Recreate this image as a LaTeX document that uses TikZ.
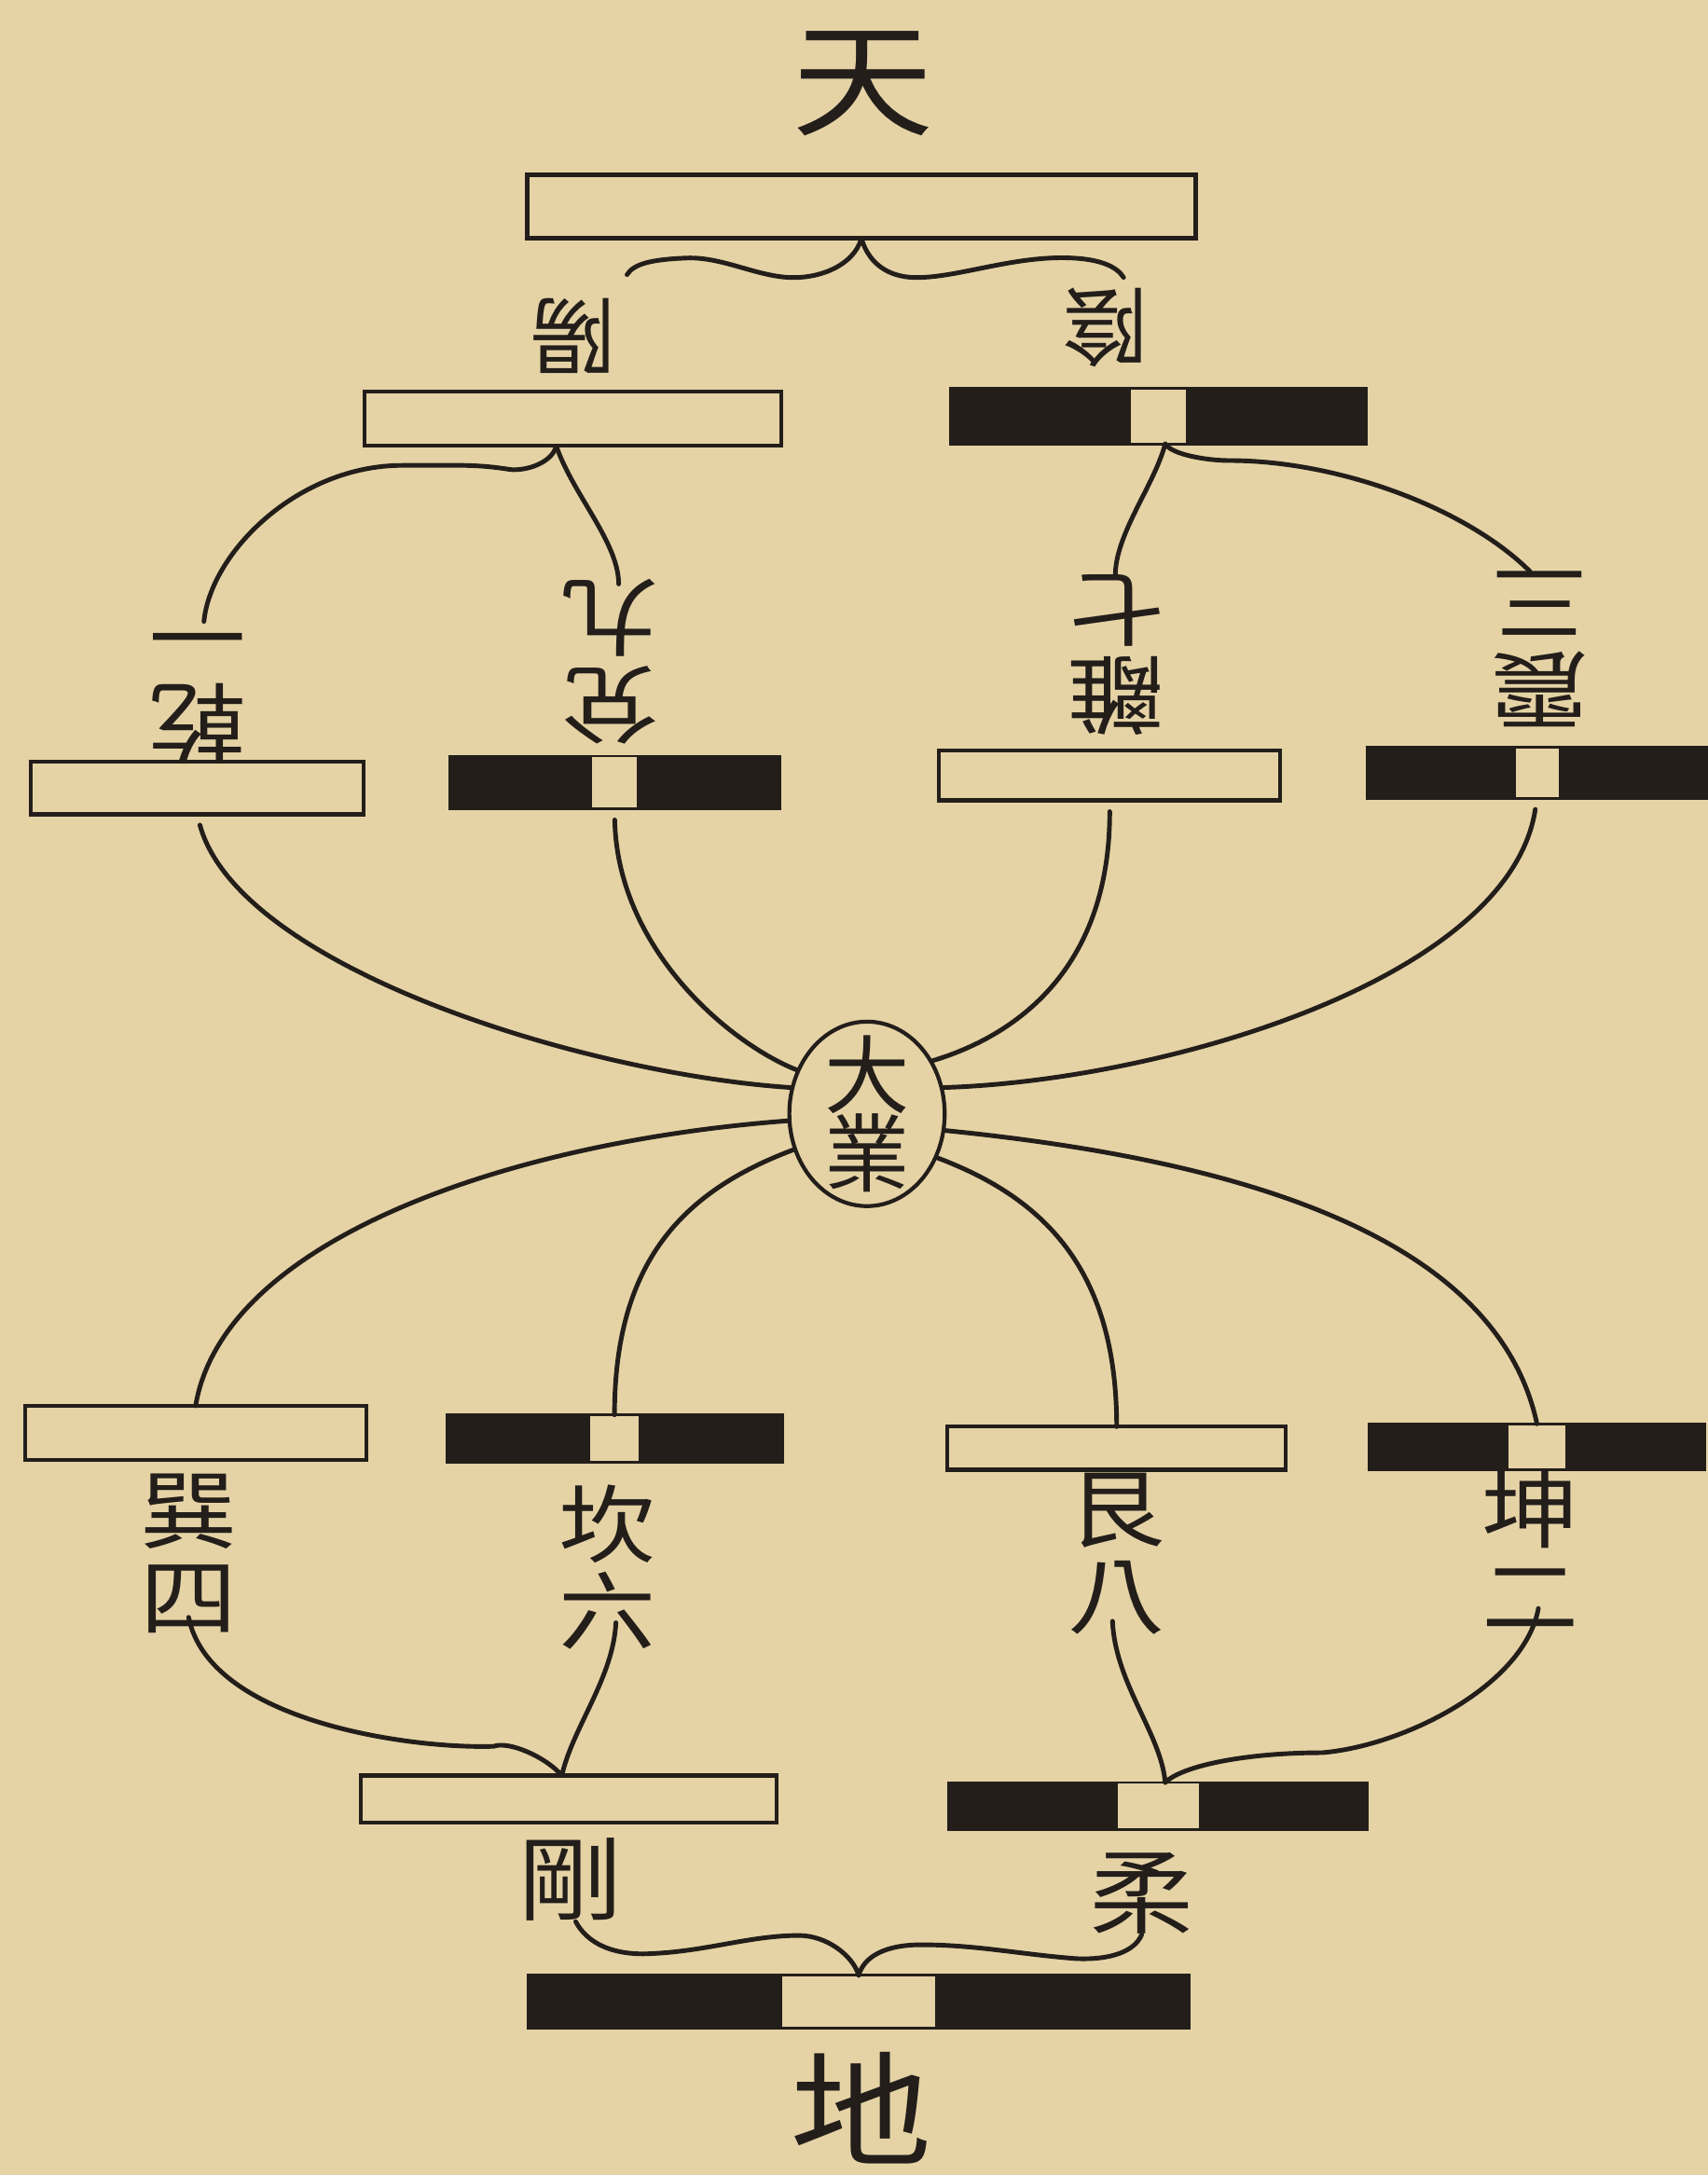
\documentclass[tikz,border=0pt]{standalone}
\usepackage{fontspec}
\newfontfamily\cjk{Noto Sans CJK TC}
\newfontfamily\cjkwide{Noto Sans CJK TC}[FakeStretch=1.14]
\usepackage{tikz}
\usetikzlibrary{positioning,shapes.geometric,calc}
\definecolor{paper}{RGB}{229,211,166}
\definecolor{ink}{RGB}{35,30,26}
\newcommand{\px}{0.014874cm}

\begin{document}
\begin{tikzpicture}[
    x=0.014874cm, y=-0.014874cm,
    yang/.style 2 args={
        rectangle,
        draw=ink,
        fill=paper,
        line width=1.2pt,
        inner sep=0pt, outer sep=0pt,
        minimum width=#1*\px,
        minimum height=#2*\px
    },
    yin/.style n args={3}{
        rectangle,
        draw=ink,
        fill=ink,
        line width=0.8pt,
        inner sep=0pt, outer sep=0pt,
        minimum width=#1*\px,
        minimum height=#2*\px,
        path picture={\fill[paper] ([xshift=-#3*\px/2]path picture bounding box.north) rectangle ([xshift=#3*\px/2]path picture bounding box.south);}
    },
    lbl/.style={font=\cjkwide\fontsize{26}{26.5}\selectfont, text=ink, align=center, inner sep=0pt},
    upside/.style={lbl, rotate=180},
    link/.style={draw=ink, line width=1.4pt, line cap=round}
]

\fill[paper] (0,0) rectangle (1231,1568);
\useasboundingbox (0,0) rectangle (1231,1568);

\node[lbl, font=\cjkwide\fontsize{38}{38}\selectfont] (tian) at (622,60) {天};
\node[yang={482}{46}, line width=1.4pt] (tianbar) at (621,149) {};

\node[upside, font=\cjk\fontsize{26}{26}\selectfont] (yanglbl) at (413,242) {陽};
\node[upside, font=\cjk\fontsize{26}{26}\selectfont] (yinlbl) at (797,236) {陰};
\node[yang={300}{39}] (yangbar) at (413,302) {};
\node[yin={300}{40}{40}] (yinbar) at (835,300) {};

\node[upside] (qianlbl) at (143,492) {乾\\一};
\node[upside] (duilbl) at (440,477) {兌\\九};
\node[upside] (lilbl) at (805,472) {離\\七};
\node[upside] (zhenlbl) at (1110,468) {震\\三};
\node[yang={240}{38}] (qianbar) at (142,568) {};
\node[yin={238}{38}{32}] (duibar) at (443,564) {};
\node[yang={246}{36}] (libar) at (800,559) {};
\node[yin={245}{37}{31}] (zhenbar) at (1108,557) {};

\node[draw=ink, line width=1.2pt, ellipse, inner sep=0pt, minimum width=112*\px, minimum height=133*\px] (tai) at (625,803) {};
\node[lbl, font=\cjk\fontsize{26}{24}\selectfont] (taitxt) at (tai) {大\\業};

\node[yang={246}{39}] (xunbar) at (141,1033) {};
\node[yin={242}{34}{35}] (kanbar) at (443,1037) {};
\node[yang={244}{31}] (genbar) at (805,1044) {};
\node[yin={242}{33}{41}] (kunbar) at (1108,1043) {};
\node[lbl] (xunlbl) at (136,1120) {巽\\四};
\node[lbl] (kanlbl) at (438,1130) {坎\\六};
\node[lbl] (genlbl) at (805,1120) {艮\\八};
\node[lbl] (kunlbl) at (1103,1117) {坤\\二};

\node[yang={300}{34}] (gangbar) at (410,1297) {};
\node[yin={302}{34}{58}] (roubar) at (835,1302) {};
\node[lbl, font=\cjkwide\fontsize{28}{28}\selectfont] (ganglbl) at (411,1355) {剛};
\node[lbl, font=\cjkwide\fontsize{28}{28}\selectfont] (roulbl) at (823,1365) {柔};

\node[yin={476}{38}{110}] (dibar) at (619,1443) {};
\node[lbl, font=\cjkwide\fontsize{38}{38}\selectfont] (di) at (621,1520) {地};

% heaven splits
\draw[link] (tianbar.south) .. controls +(-6,20) and +(21,1) .. ++(-52,28)
    .. controls +(-24,-1) and +(25,-1) .. ++(-74,-14)
    .. controls +(-25,1) and +(5,-8) .. ($(yanglbl)+(39,-44)$);
\draw[link] (tianbar.south) .. controls +(6,20) and +(-21,1) .. ++(43,28)
    .. controls +(30,-1) and +(-40,-2) .. ++(109,-14)
    .. controls +(20,1) and +(-5,-8) .. ($(yinlbl)+(13,-36)$);

\draw[link] ($(yangbar.south)+(-12,0)$) .. controls +(-3,12) and +(12,1) .. ++(-33,17)
    .. controls +(-25,-4) and +(40,0) .. ++(-78,-3)
    .. controls +(-75,0) and +(5,-50) .. ($(qianlbl)+(4,-44)$);
\draw[link] ($(yangbar.south)+(-12,0)$) .. controls +(12,35) and +(0,-30) .. ($(duilbl)+(6,-56)$);
\draw[link] ($(yinbar.south)+(5,0)$) .. controls +(-8,30) and +(0,-30) .. ($(lilbl)+(-1,-57)$);
\draw[link] ($(yinbar.south)+(5,0)$) .. controls +(5,8) and +(-15,0) .. ++(46,12)
    .. controls +(80,0) and +(-45,-45) .. ($(zhenlbl)+(-7,-56)$);

% to the centre
\draw[link, shorten <=0.12cm] (qianbar.south) .. controls +(30,110) and +(-150,-10) .. (tai.161);
\draw[link, shorten <=0.12cm] (duibar.south) .. controls +(2,100) and +(-50,-20) .. (tai.148);
\draw[link, shorten <=0.12cm] (libar.south) .. controls +(0,130) and +(50,-15) .. (tai.39);
\draw[link, shorten <=0.12cm] (zhenbar.south) .. controls +(-20,130) and +(160,-5) .. (tai.19);

\draw[link] (tai.185) .. controls +(-200,15) and +(20,-120) .. (xunbar.north);
\draw[link] (tai.206) .. controls +(-80,30) and +(0,-110) .. (kanbar.north);
\draw[link] (tai.-32) .. controls +(80,30) and +(0,-110) .. (genbar.north);
\draw[link] (tai.-12) .. controls +(200,20) and +(-30,-140) .. (kunbar.north);

% joining below
\draw[link] ($(xunlbl.south)+(0,-12)$) .. controls +(15,75) and +(-60,2) .. ++(220,93)
    .. controls +(10,-4) and +(-12,-14) .. ($(gangbar.north)+(-5,0)$);
\draw[link] ($(kanlbl.south)+(6,-20)$) .. controls +(-2,40) and +(8,-35) .. ($(gangbar.north)+(-5,0)$);
\draw[link] ($(genlbl.south)+(-3,-10)$) .. controls +(2,45) and +(-3,-35) .. ($(roubar.north)+(5,0)$);
\draw[link] ($(kunlbl.south)+(6,-15)$) .. controls +(-10,55) and +(60,-5) .. ++(-156,104)
    .. controls +(-55,0) and +(12,-12) .. ($(roubar.north)+(5,0)$);

\draw[link] ($(ganglbl.south)+(4,0)$) .. controls +(8,15) and +(-30,2) .. ++(56,23)
    .. controls +(40,-2) and +(-35,0) .. ++(105,-13)
    .. controls +(20,0) and +(-4,-14) .. (dibar.north);
\draw[link] (dibar.north) .. controls +(4,-14) and +(-25,0) .. ++(45,-22)
    .. controls +(40,0) and +(-40,-3) .. ++(112,10)
    .. controls +(25,1) and +(-5,12) .. (roulbl.south);

\end{tikzpicture}
\end{document}
